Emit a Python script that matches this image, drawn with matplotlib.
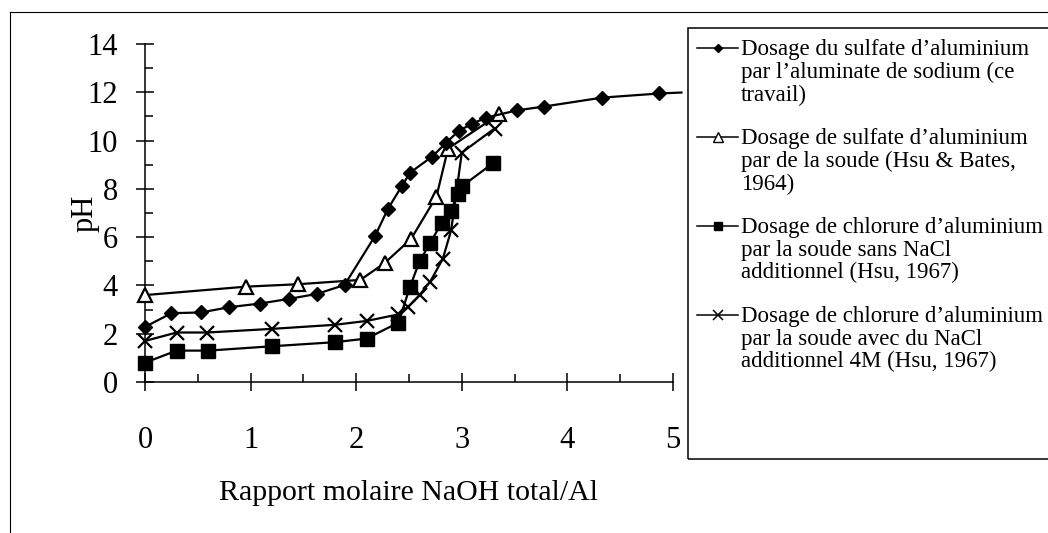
import matplotlib
matplotlib.use('Agg')
import matplotlib.pyplot as plt
from matplotlib.lines import Line2D
from matplotlib.patches import Rectangle
from matplotlib.ticker import MultipleLocator

plt.rcParams['font.family'] = ['Liberation Serif', 'DejaVu Serif']

# dosage du sulfate d'aluminium par l'aluminate de sodium (ce travail)
x_alu = [0, 0.25, 0.53, 0.80, 1.09, 1.36, 1.63, 1.89, 2.18, 2.30, 2.43, 2.51,
         2.72, 2.85, 2.97, 3.10, 3.23, 3.52, 3.78, 4.33, 4.87, 5.08]
ph_alu = [2.28, 2.85, 2.88, 3.1, 3.25, 3.44, 3.65, 4.02, 6.06, 7.17, 8.1, 8.67,
          9.34, 9.9, 10.4, 10.7, 10.95, 11.25, 11.41, 11.78, 11.95, 11.99]
# Hsu & Bates 1964
x_hb = [0, 0.96, 1.45, 2.04, 2.27, 2.52, 2.76, 2.87, 3.35]
ph_hb = [3.6, 3.95, 4.05, 4.23, 4.93, 5.93, 7.68, 9.67, 11.08]
# Hsu 1967 sans NaCl
x_hsu = [0, 0.30, 0.60, 1.20, 1.80, 2.10, 2.40, 2.51, 2.60, 2.70, 2.81, 2.90, 2.96, 3.0, 3.30]
ph_hsu = [0.8, 1.3, 1.3, 1.48, 1.65, 1.8, 2.46, 3.95, 5.0, 5.75, 6.6, 7.1, 7.8, 8.1, 9.08]
# Hsu 1967 NaCl 4M
x_nacl = [0, 0.30, 0.59, 1.20, 1.80, 2.10, 2.40, 2.49, 2.60, 2.70, 2.82, 2.90, 3.0, 3.31]
ph_nacl = [1.7, 2.05, 2.05, 2.2, 2.37, 2.53, 2.8, 3.1, 3.6, 4.15, 5.1, 6.3, 9.5, 10.5]

labels = ['Dosage du sulfate d\u2019aluminium\npar l\u2019aluminate de sodium (ce\ntravail)',
          'Dosage de sulfate d\u2019aluminium\npar de la soude (Hsu & Bates,\n1964)',
          'Dosage de chlorure d\u2019aluminium\npar la soude sans NaCl\nadditionnel (Hsu, 1967)',
          'Dosage de chlorure d\u2019aluminium\npar la soude avec du NaCl\nadditionnel 4M (Hsu, 1967)']

W, H = 1048, 533
fig = plt.figure(figsize=(W / 100, H / 100), dpi=100)
ax = fig.add_axes([145 / W, 1 - 382 / H, (673 - 145) / W, (382 - 44) / H])

lw = 1.6
# la derniere valeur (5.08) n'a pas de marqueur, la courbe passe sous la legende
ax.plot(x_alu, ph_alu, color='black', lw=lw, marker='D', ms=7.4, mfc='black', mec='black',
        markevery=list(range(len(x_alu) - 1)), clip_on=False, zorder=5)
ax.plot(x_hb, ph_hb, color='black', lw=lw, marker='^', ms=10, mfc='white', mec='black',
        mew=1.6, clip_on=False, zorder=4)
ax.plot(x_hsu, ph_hsu, color='black', lw=lw, marker='s', ms=9.5, mfc='black', mec='black',
        clip_on=False, zorder=3)
ax.plot(x_nacl, ph_nacl, color='black', lw=lw, marker='x', ms=10, mew=1.6,
        clip_on=False, zorder=3)

ax.set_xlim(0, 5)
ax.set_ylim(0, 14)
ax.spines['top'].set_visible(False)
ax.spines['right'].set_visible(False)
for s in ['left', 'bottom']:
    ax.spines[s].set_linewidth(1.1)
ax.xaxis.set_major_locator(MultipleLocator(1))
ax.xaxis.set_minor_locator(MultipleLocator(0.5))
ax.yaxis.set_major_locator(MultipleLocator(2))
ax.yaxis.set_minor_locator(MultipleLocator(1))
ax.tick_params(which='major', direction='inout', length=13, width=1.1, labelsize=22)
ax.tick_params(which='minor', direction='in', length=6, width=1.1)
ax.tick_params(axis='x', which='major', pad=25)
ax.tick_params(axis='y', which='major', pad=13)
ax.set_xlabel('Rapport molaire NaOH total/Al', fontsize=21.5, labelpad=18)
ax.set_ylabel('pH', fontsize=22)
ax.yaxis.set_label_coords(-0.086, 0.5)

# cadre exterieur
fig.add_artist(Line2D([10 / W, 10 / W], [0, 1 - 12 / H], color='black', lw=0.8, transform=fig.transFigure))
fig.add_artist(Line2D([10 / W, 1], [1 - 12 / H, 1 - 12 / H], color='black', lw=0.8, transform=fig.transFigure))

# legende
fig.add_artist(Rectangle((688 / W, 1 - 459 / H), 0.4, (459 - 28) / H, fill=False, ec='black',
                         lw=1.1, transform=fig.transFigure, clip_on=False))
leg_styles = [dict(marker='D', ms=4.5, mfc='black', mec='black'),
              dict(marker='^', ms=6.5, mfc='white', mec='black', mew=1),
              dict(marker='s', ms=6, mfc='black', mec='black'),
              dict(marker='x', ms=7.5, mew=1.1, mec='black')]
for i, (lab, st) in enumerate(zip(labels, leg_styles)):
    ytop = 48 + i * 89
    fy = 1 - ytop / H
    fig.add_artist(Line2D([697 / W, 738 / W], [fy, fy], color='black', lw=1.1,
                          transform=fig.transFigure))
    fig.add_artist(Line2D([718 / W], [fy], color='black', lw=0, transform=fig.transFigure, **st))
    fig.text(741 / W, 1 - (ytop - 9) / H, lab, fontsize=16.5, ha='left', va='top',
             linespacing=1.1, transform=fig.transFigure)

fig.savefig('out.png', dpi=100)
